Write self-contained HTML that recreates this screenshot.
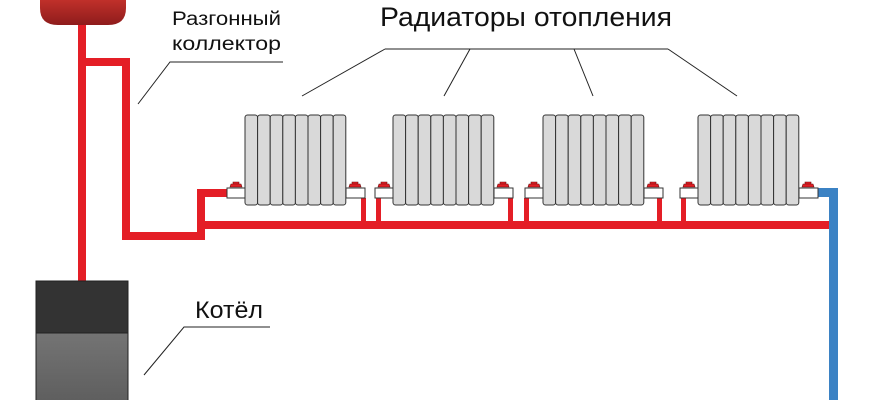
<!DOCTYPE html>
<html><head><meta charset="utf-8"><style>
html,body{margin:0;padding:0;background:#fff;width:870px;height:400px;overflow:hidden}
svg{display:block}
text{font-family:"Liberation Sans","DejaVu Sans",sans-serif;fill:#111}
</style></head><body>
<svg width="870" height="400" viewBox="0 0 870 400" xmlns="http://www.w3.org/2000/svg">
<defs>
<linearGradient id="tank" x1="0" y1="0" x2="0" y2="1"><stop offset="0" stop-color="#c0302a"/><stop offset="1" stop-color="#8e1c1c"/></linearGradient>
<linearGradient id="boil" x1="0" y1="0" x2="0" y2="1"><stop offset="0" stop-color="#747474"/><stop offset="1" stop-color="#5e5e5e"/></linearGradient>
<g id="rad">
<rect x="0" y="0" width="12.6" height="90" rx="2.5" fill="#d9d9d9" stroke="#333" stroke-width="1"/>
<rect x="12.6" y="0" width="12.6" height="90" rx="2.5" fill="#d9d9d9" stroke="#333" stroke-width="1"/>
<rect x="25.2" y="0" width="12.6" height="90" rx="2.5" fill="#d9d9d9" stroke="#333" stroke-width="1"/>
<rect x="37.8" y="0" width="12.6" height="90" rx="2.5" fill="#d9d9d9" stroke="#333" stroke-width="1"/>
<rect x="50.4" y="0" width="12.6" height="90" rx="2.5" fill="#d9d9d9" stroke="#333" stroke-width="1"/>
<rect x="63" y="0" width="12.6" height="90" rx="2.5" fill="#d9d9d9" stroke="#333" stroke-width="1"/>
<rect x="75.6" y="0" width="12.6" height="90" rx="2.5" fill="#d9d9d9" stroke="#333" stroke-width="1"/>
<rect x="88.2" y="0" width="12.6" height="90" rx="2.5" fill="#d9d9d9" stroke="#333" stroke-width="1"/>
<rect x="-18" y="73" width="18" height="10" fill="#fff" stroke="#333" stroke-width="1"/>
<rect x="101" y="73" width="19" height="10" fill="#fff" stroke="#333" stroke-width="1"/>
<path d="M-15 72 L-14 69 L-4 69 L-3 72 Z M-12 69 L-12 67 L-6 67 L-6 69 Z" fill="#e31e24" stroke="#6a1010" stroke-width="0.6"/>
<path d="M104 72 L105 69 L115 69 L116 72 Z M107 69 L107 67 L113 67 L113 69 Z" fill="#e31e24" stroke="#6a1010" stroke-width="0.6"/>
</g>
</defs>
<path d="M40 0 L126 0 L126 8 Q126 25 108 25 L58 25 Q40 25 40 8 Z" fill="url(#tank)"/>
<g fill="#e41e26">
<rect x="78" y="25" width="8" height="256"/>
<rect x="78" y="58" width="52" height="8"/>
<rect x="122" y="58" width="8" height="182"/>
<rect x="122" y="232" width="83" height="8"/>
<rect x="197" y="189" width="8" height="51"/>
<rect x="197" y="189" width="30" height="8"/>
<rect x="205" y="221" width="624" height="8"/>
<rect x="361" y="198" width="5" height="24"/>
<rect x="376" y="198" width="5" height="24"/>
<rect x="508" y="198" width="5" height="24"/>
<rect x="524" y="198" width="5" height="24"/>
<rect x="657" y="198" width="5" height="24"/>
<rect x="681" y="198" width="5" height="24"/>
</g>
<rect x="818" y="188" width="20" height="9" fill="#3b82c4"/>
<rect x="829" y="188" width="9" height="212" fill="#3b82c4"/>
<use href="#rad" x="245" y="115"/>
<use href="#rad" x="393" y="115"/>
<use href="#rad" x="543" y="115"/>
<use href="#rad" x="698" y="115"/>
<rect x="36" y="281" width="92" height="52" fill="#333" stroke="#222" stroke-width="1"/>
<rect x="36" y="333" width="92" height="70" fill="url(#boil)" stroke="#222" stroke-width="1"/>
<g stroke="#222" stroke-width="1" fill="none">
<polyline points="138,104 170,62 283,62"/>
<polyline points="144,375 184,327 270,327"/>
<line x1="385" y1="49" x2="668" y2="49"/>
<line x1="385" y1="49" x2="302" y2="96"/>
<line x1="470" y1="49" x2="444" y2="96"/>
<line x1="574" y1="49" x2="593" y2="96"/>
<line x1="668" y1="49" x2="737" y2="96"/>
</g>
<text x="172" y="25" font-size="19" textLength="109" lengthAdjust="spacingAndGlyphs">Разгонный</text>
<text x="172" y="50" font-size="19" textLength="109" lengthAdjust="spacingAndGlyphs">коллектор</text>
<text x="380" y="26" font-size="27" textLength="292" lengthAdjust="spacingAndGlyphs">Радиаторы отопления</text>
<text x="195" y="318" font-size="24" textLength="68" lengthAdjust="spacingAndGlyphs">Котёл</text>
</svg>
</body></html>
